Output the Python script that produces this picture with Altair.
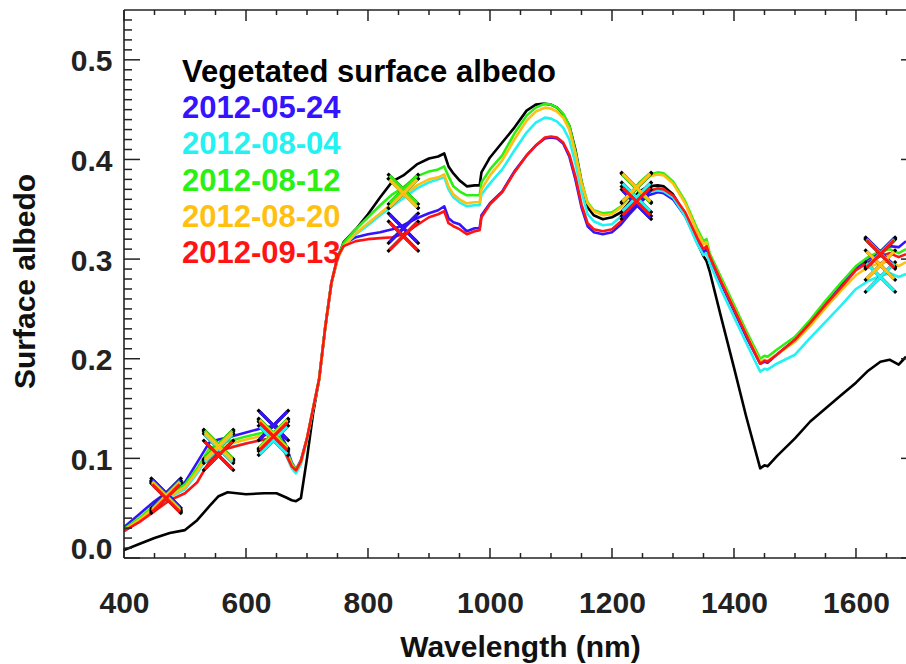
import altair as alt
import pandas as pd

# ---------------- data ----------------
wavelength = [400, 425, 450, 475, 500, 520, 540, 555, 570, 600, 630, 650, 665, 675, 682, 690,
              700, 710, 720, 730, 740, 750, 760, 780, 800, 820, 840, 858, 880, 900, 915, 925,
              932, 940, 950, 962, 975, 983, 986, 1000, 1020, 1040, 1060, 1075, 1090, 1100,
              1110, 1120, 1130, 1140, 1150, 1160, 1170, 1185, 1200, 1215, 1230, 1245, 1260,
              1275, 1285, 1300, 1320, 1340, 1350, 1355, 1360, 1380, 1400, 1420, 1443, 1450,
              1455, 1470, 1500, 1525, 1550, 1575, 1600, 1620, 1640, 1655, 1670, 1682]

vegetated = [0.008, 0.014, 0.020, 0.025, 0.028, 0.038, 0.052, 0.062, 0.066, 0.064, 0.065, 0.065, 0.061, 0.058, 0.057, 0.060,
             0.100, 0.145, 0.180, 0.232, 0.276, 0.300, 0.317, 0.330, 0.345, 0.362, 0.378, 0.384, 0.395, 0.401, 0.403, 0.406,
             0.393, 0.386, 0.379, 0.373, 0.374, 0.374, 0.387, 0.402, 0.417, 0.432, 0.449, 0.455, 0.456, 0.455,
             0.452, 0.445, 0.434, 0.410, 0.378, 0.352, 0.344, 0.340, 0.342, 0.347, 0.358, 0.368, 0.373,
             0.374, 0.373, 0.365, 0.345, 0.316, 0.303, 0.298, 0.288, 0.239, 0.191, 0.142, 0.090, 0.093,
             0.092, 0.102, 0.120, 0.137, 0.150, 0.163, 0.176, 0.188, 0.197, 0.199, 0.194, 0.202]

d20120524 = [0.031, 0.044, 0.057, 0.068, 0.076, 0.096, 0.116, 0.119, 0.121, 0.126, 0.131, 0.133, 0.114, 0.096, 0.089, 0.098,
             0.120, 0.150, 0.180, 0.232, 0.276, 0.302, 0.315, 0.322, 0.325, 0.327, 0.330, 0.334, 0.341, 0.346, 0.349, 0.353,
             0.341, 0.337, 0.335, 0.328, 0.331, 0.331, 0.344, 0.356, 0.368, 0.388, 0.404, 0.414, 0.421, 0.422,
             0.421, 0.416, 0.403, 0.380, 0.352, 0.333, 0.327, 0.325, 0.327, 0.335, 0.346, 0.356, 0.364,
             0.367, 0.366, 0.360, 0.343, 0.317, 0.307, 0.310, 0.300, 0.274, 0.248, 0.222, 0.195, 0.197,
             0.196, 0.204, 0.219, 0.236, 0.255, 0.273, 0.291, 0.300, 0.308, 0.313, 0.312, 0.318]

d20120804 = [0.027, 0.038, 0.050, 0.061, 0.069, 0.085, 0.104, 0.109, 0.111, 0.115, 0.119, 0.120, 0.104, 0.090, 0.085, 0.094,
             0.118, 0.150, 0.180, 0.232, 0.276, 0.300, 0.313, 0.325, 0.334, 0.344, 0.353, 0.361, 0.371, 0.377, 0.380, 0.382,
             0.370, 0.362, 0.357, 0.353, 0.354, 0.354, 0.365, 0.376, 0.390, 0.409, 0.427, 0.437, 0.442, 0.441,
             0.438, 0.432, 0.420, 0.396, 0.368, 0.345, 0.338, 0.334, 0.335, 0.343, 0.354, 0.363, 0.367,
             0.369, 0.368, 0.362, 0.343, 0.315, 0.304, 0.306, 0.296, 0.268, 0.242, 0.216, 0.187, 0.190,
             0.189, 0.195, 0.204, 0.221, 0.237, 0.253, 0.270, 0.278, 0.283, 0.286, 0.282, 0.285]

d20120812 = [0.029, 0.040, 0.053, 0.064, 0.074, 0.090, 0.110, 0.114, 0.117, 0.122, 0.126, 0.127, 0.110, 0.095, 0.089, 0.097,
             0.120, 0.150, 0.180, 0.232, 0.276, 0.302, 0.316, 0.330, 0.342, 0.354, 0.365, 0.372, 0.383, 0.388, 0.390, 0.393,
             0.383, 0.373, 0.368, 0.364, 0.364, 0.364, 0.377, 0.390, 0.404, 0.426, 0.444, 0.452, 0.456, 0.455,
             0.452, 0.446, 0.434, 0.408, 0.378, 0.357, 0.349, 0.346, 0.347, 0.353, 0.364, 0.377, 0.385,
             0.387, 0.386, 0.378, 0.358, 0.330, 0.318, 0.320, 0.306, 0.280, 0.254, 0.228, 0.200, 0.203,
             0.202, 0.209, 0.222, 0.239, 0.258, 0.276, 0.293, 0.302, 0.308, 0.310, 0.306, 0.310]

d20120820 = [0.028, 0.038, 0.051, 0.062, 0.071, 0.087, 0.107, 0.111, 0.114, 0.119, 0.123, 0.124, 0.108, 0.093, 0.088, 0.096,
             0.120, 0.150, 0.180, 0.232, 0.276, 0.300, 0.313, 0.326, 0.336, 0.346, 0.356, 0.364, 0.374, 0.380, 0.382, 0.385,
             0.373, 0.365, 0.360, 0.356, 0.357, 0.357, 0.370, 0.384, 0.399, 0.420, 0.439, 0.448, 0.452, 0.451,
             0.448, 0.442, 0.430, 0.406, 0.376, 0.356, 0.348, 0.344, 0.345, 0.352, 0.363, 0.375, 0.383,
             0.385, 0.384, 0.376, 0.356, 0.327, 0.315, 0.317, 0.303, 0.277, 0.251, 0.225, 0.197, 0.199,
             0.198, 0.204, 0.217, 0.233, 0.251, 0.268, 0.284, 0.292, 0.296, 0.298, 0.293, 0.297]

d20120913 = [0.027, 0.036, 0.047, 0.058, 0.065, 0.076, 0.097, 0.106, 0.110, 0.115, 0.119, 0.121, 0.105, 0.092, 0.088, 0.097,
             0.120, 0.150, 0.180, 0.232, 0.276, 0.302, 0.313, 0.318, 0.320, 0.321, 0.322, 0.325, 0.334, 0.342, 0.345, 0.348,
             0.336, 0.333, 0.330, 0.325, 0.328, 0.329, 0.342, 0.355, 0.367, 0.387, 0.404, 0.414, 0.422, 0.423,
             0.422, 0.417, 0.405, 0.383, 0.355, 0.336, 0.330, 0.328, 0.330, 0.338, 0.349, 0.360, 0.368,
             0.371, 0.370, 0.364, 0.347, 0.321, 0.310, 0.313, 0.303, 0.276, 0.250, 0.224, 0.195, 0.198,
             0.197, 0.204, 0.219, 0.236, 0.254, 0.271, 0.289, 0.297, 0.303, 0.306, 0.302, 0.305]

# MODIS band albedo markers
band_wl = [469, 555, 645, 858, 1240, 1640]
m20120524 = [0.065, 0.113, 0.133, 0.331, 0.355, 0.307]
m20120804 = [0.061, 0.110, 0.118, 0.366, 0.362, 0.282]
m20120812 = [0.063, 0.114, 0.125, 0.370, 0.371, 0.306]
m20120820 = [0.062, 0.112, 0.124, 0.366, 0.372, 0.294]
m20120913 = [0.060, 0.103, 0.122, 0.323, 0.358, 0.305]

dates = ["2012-05-24", "2012-08-04", "2012-08-12", "2012-08-20", "2012-09-13"]
date_series = [d20120524, d20120804, d20120812, d20120820, d20120913]
date_markers = [m20120524, m20120804, m20120812, m20120820, m20120913]
date_colors = ["#3414ff", "#22f2f2", "#2cf012", "#ffc010", "#ff1414"]

legend_title = "Vegetated surface albedo"

x_major = [400, 600, 800, 1000, 1200, 1400, 1600]
x_minor = [v for v in range(450, 1682, 50) if v not in x_major]
y_major = [0.0, 0.1, 0.2, 0.3, 0.4, 0.5]
y_minor = [round(i * 0.01, 2) for i in range(1, 55) if i % 10 != 0]

# ---------------- chart ----------------
W, H = 782, 548
FONT = "Liberation Sans"
AX = "#222222"

xscale = alt.Scale(domain=[400, 1682], nice=False, zero=False)
yscale = alt.Scale(domain=[0, 0.55], nice=False, zero=False)

xaxis = alt.Axis(title="Wavelength (nm)", values=x_major, format="d", ticks=False, tickSize=0,
                 domain=False, grid=False, labelFlush=False, labelFont=FONT, labelFontSize=30,
                 labelFontWeight="bold", labelColor=AX, labelPadding=30,
                 titleFont=FONT, titleFontSize=30, titleFontWeight="bold", titleColor="#111111",
                 titleX=396, titleY=98, titleBaseline="alphabetic", titleAlign="center")
yaxis = alt.Axis(title="Surface albedo", values=y_major, format=".1f", ticks=False, tickSize=0,
                 domain=False, grid=False, labelFlush=True, labelFlushOffset=4, labelOffset=2,
                 labelFont=FONT, labelFontSize=30, labelFontWeight="bold", labelColor=AX,
                 labelPadding=12, titleFont=FONT, titleFontSize=30, titleFontWeight="bold",
                 titleColor="#111111", titleX=-99, titleY=271, titleAngle=270,
                 titleBaseline="middle", titleAlign="center")


def X(field):
    return alt.X(f"{field}:Q", scale=xscale, axis=xaxis)


def Y(field):
    return alt.Y(f"{field}:Q", scale=yscale, axis=yaxis)


layers = []

# spectra lines
line_specs = [(legend_title, vegetated, "#000000")] + list(zip(dates, date_series, date_colors))
for name, vals, col in line_specs:
    df = pd.DataFrame({"wl": wavelength, "alb": vals})
    layers.append(
        alt.Chart(df).mark_line(color=col, strokeWidth=2.6, clip=True, strokeJoin="round")
        .encode(x=X("wl"), y=Y("alb"))
    )

# markers: black X under, coloured X on top
XPATH = "M-1,-1L1,1M-1,1L1,-1"
for vals in date_markers:
    df = pd.DataFrame({"wl": band_wl, "alb": vals})
    layers.append(
        alt.Chart(df).mark_point(shape=XPATH, filled=False, size=1000, strokeWidth=3.2,
                                 color="#000000", opacity=1)
        .encode(x=X("wl"), y=Y("alb"))
    )
for vals, col in zip(date_markers, date_colors):
    df = pd.DataFrame({"wl": band_wl, "alb": vals})
    layers.append(
        alt.Chart(df).mark_point(shape=XPATH, filled=False, size=760, strokeWidth=3.2,
                                 color=col, opacity=1)
        .encode(x=X("wl"), y=Y("alb"))
    )

# tick marks (IDL style, pointing inward)
ymaj = pd.DataFrame({"t": y_major})
ymin = pd.DataFrame({"t": y_minor})
xmaj = pd.DataFrame({"t": x_major})
xmin = pd.DataFrame({"t": x_minor})
tk = dict(color=AX, strokeWidth=1.5)
layers += [
    alt.Chart(ymaj).mark_rule(**tk).encode(y=Y("t"), x=alt.value(0), x2=alt.value(16)),
    alt.Chart(ymin).mark_rule(**tk).encode(y=Y("t"), x=alt.value(0), x2=alt.value(8)),
    alt.Chart(ymaj).mark_rule(**tk).encode(y=Y("t"), x=alt.value(W - 5), x2=alt.value(W)),
    alt.Chart(xmaj).mark_rule(**tk).encode(x=X("t"), y=alt.value(H), y2=alt.value(H - 10)),
    alt.Chart(xmin).mark_rule(**tk).encode(x=X("t"), y=alt.value(H), y2=alt.value(H - 5)),
    alt.Chart(xmaj).mark_rule(**tk).encode(x=X("t"), y=alt.value(0), y2=alt.value(11)),
    alt.Chart(xmin).mark_rule(**tk).encode(x=X("t"), y=alt.value(0), y2=alt.value(5)),
]

# plot frame (left, top, bottom)
one = pd.DataFrame({"a": [0]})
fr = dict(color=AX, strokeWidth=1.6)
layers += [
    alt.Chart(one).mark_rule(**fr).encode(x=alt.value(0), y=alt.value(0), y2=alt.value(H)),
    alt.Chart(one).mark_rule(**fr).encode(x=alt.value(0), x2=alt.value(W), y=alt.value(0)),
    alt.Chart(one).mark_rule(**fr).encode(x=alt.value(0), x2=alt.value(W), y=alt.value(H)),
]

# legend text
leg = pd.DataFrame({
    "label": [legend_title] + dates,
    "col": ["#000000"] + date_colors,
    "py": [63 + 36.2 * i for i in range(len(dates) + 1)],
})
layers.append(
    alt.Chart(leg).mark_text(align="left", baseline="middle", font=FONT, fontSize=31,
                             fontWeight="bold")
    .encode(x=alt.value(58), y=alt.Y("py:Q", scale=None, axis=None),
            text="label:N", color=alt.Color("col:N", scale=None, legend=None))
)

chart = (
    alt.layer(*layers)
    .properties(width=W, height=H, autosize="none",
                padding={"left": 124, "top": 10, "right": 0, "bottom": 106},
                background="white")
    .configure_view(stroke=None)
)

chart.save("out.html", embed_options={"renderer": "svg", "actions": False})
